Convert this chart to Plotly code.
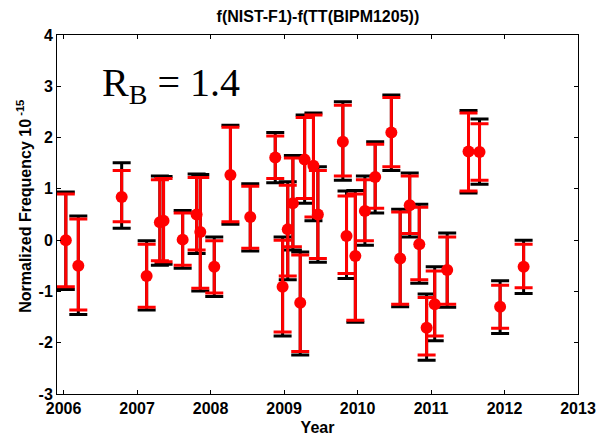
import plotly.graph_objects as go

# ---- data ----
years = [2006.03, 2006.20, 2006.79, 2007.13, 2007.31, 2007.36, 2007.62, 2007.81,
         2007.86, 2008.05, 2008.27, 2008.54, 2008.88, 2008.98, 2009.05, 2009.12,
         2009.22, 2009.28, 2009.40, 2009.46, 2009.80, 2009.85, 2009.97, 2010.10,
         2010.24, 2010.46, 2010.58, 2010.71, 2010.84, 2010.94, 2011.05, 2011.22,
         2011.51, 2011.66, 2011.94, 2012.26]
values = [0.00, -0.50, 0.84, -0.70, 0.35, 0.38, 0.01, 0.50,
          0.16, -0.52, 1.27, 0.45, 1.61, -0.91, 0.21, 0.72,
          -1.22, 1.57, 1.45, 0.50, 1.92, 0.08, -0.31, 0.57,
          1.23, 2.10, -0.36, 0.68, -0.08, -1.71, -1.25, -0.58,
          1.73, 1.72, -1.30, -0.52]
red_hi = [0.90, 0.41, 1.36, -0.08, 1.18, 1.20, 0.53, 1.22,
          1.22, -0.01, 2.20, 1.05, 2.03, 0.00, 1.07, 1.60,
          -0.29, 2.39, 2.44, 1.36, 2.63, 0.86, 0.90, 1.18,
          1.87, 2.78, 0.55, 1.25, 0.64, -1.12, -0.60, 0.06,
          2.48, 2.27, -0.88, -0.08]
red_lo = [-0.91, -1.36, 0.36, -1.31, -0.40, -0.42, -0.49, -0.19,
          -0.94, -1.03, 0.36, -0.16, 1.20, -1.79, -0.70, -0.13,
          -2.17, 0.81, 0.45, -0.36, 1.25, -0.65, -1.56, -0.01,
          0.62, 1.43, -1.25, 0.13, -0.77, -2.24, -1.87, -1.25,
          0.96, 1.17, -1.72, -0.93]
blk_hi = [0.94, 0.47, 1.51, -0.01, 1.25, 1.24, 0.58, 1.29,
          1.28, 0.06, 2.24, 1.10, 2.10, 0.06, 1.14, 1.65,
          -0.23, 2.44, 2.48, 1.43, 2.70, 0.96, 0.97, 1.25,
          1.92, 2.83, 0.60, 1.31, 0.70, -1.05, -0.52, 0.14,
          2.53, 2.36, -0.79, 0.00]
blk_lo = [-0.96, -1.45, 0.23, -1.36, -0.49, -0.47, -0.55, -0.26,
          -0.99, -1.10, 0.31, -0.21, 1.12, -1.87, -0.77, -0.19,
          -2.24, 0.72, 0.38, -0.43, 1.17, -0.75, -1.60, -0.10,
          0.53, 1.36, -1.30, 0.06, -0.84, -2.34, -1.96, -1.31,
          0.92, 1.09, -1.82, -1.04]

x_ticks = [2006, 2007, 2008, 2009, 2010, 2011, 2012, 2013]
y_ticks = [-3, -2, -1, 0, 1, 2, 3, 4]

title_text = "f(NIST-F1)-f(TT(BIPM1205))"
x_title = "Year"
y_title = "Normalized Frequency 10<sup> -15</sup>"
rb_text = "R<sub>B</sub> = 1.4"

FONT = "Arial, Liberation Sans, sans-serif"

fig = go.Figure()

fig.add_trace(go.Scatter(
    x=years, y=values, mode="markers",
    marker=dict(size=1, color="black"),
    error_y=dict(type="data", symmetric=False,
                 array=[h - v for h, v in zip(blk_hi, values)],
                 arrayminus=[v - l for l, v in zip(blk_lo, values)],
                 color="black", thickness=3, width=9),
    showlegend=False, hoverinfo="skip"))

fig.add_trace(go.Scatter(
    x=years, y=values, mode="markers",
    marker=dict(size=12, color="#ff0000", line=dict(width=0)),
    error_y=dict(type="data", symmetric=False,
                 array=[h - v for h, v in zip(red_hi, values)],
                 arrayminus=[v - l for l, v in zip(red_lo, values)],
                 color="#ff0000", thickness=3, width=9),
    showlegend=False))

axis_common = dict(showline=True, linecolor="black", linewidth=1, mirror="ticks",
                   ticks="inside", ticklen=4, tickcolor="black", tickwidth=1,
                   showgrid=False, zeroline=False, automargin=False,
                   tickfont=dict(family=FONT, size=16, color="black", weight="bold"))

fig.update_layout(
    width=597, height=436,
    margin=dict(l=57, r=19, t=35, b=42),
    paper_bgcolor="white", plot_bgcolor="white",
    title=dict(text="<b>" + title_text + "</b>", x=0.5325, xanchor="center",
               y=0.962, yanchor="middle",
               font=dict(family=FONT, size=16, color="black")),
    xaxis=dict(range=[2005.91, 2013.0], tickvals=x_ticks,
               ticktext=[str(t) for t in x_ticks],
               title=dict(text="<b>" + x_title + "</b>",
                          font=dict(family=FONT, size=16, color="black")),
               **axis_common),
    yaxis=dict(range=[-3, 4], tickvals=y_ticks,
               ticktext=[str(t) for t in y_ticks],
               **axis_common),
    annotations=[
        dict(text=rb_text, xref="paper", yref="paper",
             x=0.083, y=0.935, xanchor="left", yanchor="top",
             showarrow=False,
             font=dict(family="Times New Roman, Liberation Serif, serif",
                       size=40, color="black")),
        dict(text="<b>" + y_title + "</b>", xref="paper", yref="paper",
             x=-0.0635, y=0.524, xanchor="center", yanchor="middle",
             textangle=-90, showarrow=False,
             font=dict(family=FONT, size=16, color="black")),
    ],
)

fig.write_html("out.html")
